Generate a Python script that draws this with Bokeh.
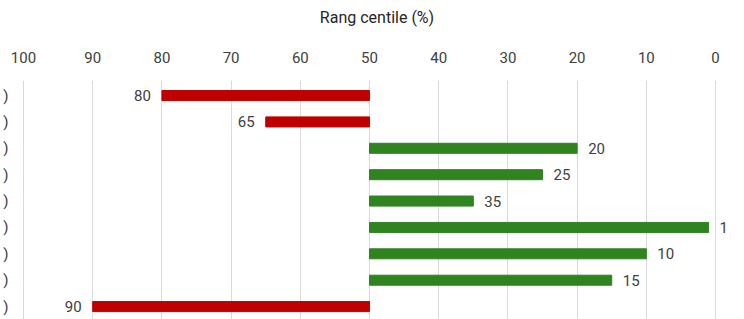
from bokeh.plotting import figure
from bokeh.models import Range1d, ColumnDataSource, FixedTicker, LabelSet
from bokeh.core.properties import value
from bokeh.embed import file_html
from bokeh.resources import INLINE

# ---- data ----
categories = ["c1", "c2", "c3", "c4", "c5", "c6", "c7", "c8", "c9"]
category_labels = [")", ")", ")", ")", ")", ")", ")", ")", ")"]
values = [80, 65, 20, 25, 35, 1, 10, 15, 90]
base = 50
x_ticks = [100, 90, 80, 70, 60, 50, 40, 30, 20, 10, 0]
x_title = "Rang centile (%)"

RED = "#C00000"
GREEN = "#2F841F"
FONT = "Roboto"

ypos = list(range(len(categories)))
red_i = [i for i, v in enumerate(values) if v > base]
green_i = [i for i, v in enumerate(values) if v <= base]

red_src = ColumnDataSource(dict(y=[ypos[i] for i in red_i],
                                v=[values[i] for i in red_i],
                                t=[str(values[i]) for i in red_i]))
green_src = ColumnDataSource(dict(y=[ypos[i] for i in green_i],
                                  v=[values[i] for i in green_i],
                                  t=[str(values[i]) for i in green_i]))

p = figure(frame_width=737, frame_height=239, output_backend="svg", toolbar_location=None,
           x_range=Range1d(102.17, -4.33), y_range=Range1d(8.49, -0.57),
           x_axis_location="above",
           min_border_left=5, min_border_right=0, min_border_top=80, min_border_bottom=0)
p.outline_line_color = None
p.background_fill_color = "white"
p.border_fill_color = "white"

p.hbar(y="y", left=base, right="v", height=0.38, color=RED, source=red_src)
p.hbar(y="y", left=base, right="v", height=0.38, color=GREEN, source=green_src)

p.add_layout(LabelSet(x="v", y="y", text="t", source=red_src, text_align="right",
                      text_baseline="middle", x_offset=-11, text_font=value(FONT),
                      text_font_size="15px", text_color="#404040"))
p.add_layout(LabelSet(x="v", y="y", text="t", source=green_src, text_align="left",
                      text_baseline="middle", x_offset=11, text_font=value(FONT),
                      text_font_size="15px", text_color="#404040"))

# x axis on top
xa = p.xaxis[0]
xa.ticker = FixedTicker(ticks=x_ticks)
xa.axis_label = x_title
xa.axis_label_text_font = FONT
xa.axis_label_text_font_style = "normal"
xa.axis_label_text_font_size = "16px"
xa.axis_label_text_color = "#262626"
xa.axis_label_standoff = 22
xa.major_label_text_font = FONT
xa.major_label_text_font_size = "15px"
xa.major_label_text_color = "#404040"
xa.major_label_standoff = 18
xa.axis_line_color = None
xa.major_tick_line_color = None
xa.minor_tick_line_color = None
xa.major_tick_out = 0
xa.major_tick_in = 0
xa.minor_tick_out = 0
xa.minor_tick_in = 0

# y axis (labels clipped in reference, only ")" visible)
ya = p.yaxis[0]
ya.ticker = FixedTicker(ticks=ypos)
ya.major_label_overrides = {y: lab for y, lab in zip(ypos, category_labels)}
ya.major_label_text_font = FONT
ya.major_label_text_font_size = "15px"
ya.major_label_text_color = "#404040"
ya.major_label_standoff = 0
ya.axis_line_color = None
ya.major_tick_line_color = None
ya.minor_tick_line_color = None
ya.major_tick_out = 0
ya.major_tick_in = 0
ya.minor_tick_out = 0
ya.minor_tick_in = 0

p.xgrid.grid_line_color = "#D9D9D9"
p.xgrid.ticker = FixedTicker(ticks=x_ticks)
p.ygrid.grid_line_color = None

open("out.html", "w").write(file_html(p, INLINE))
